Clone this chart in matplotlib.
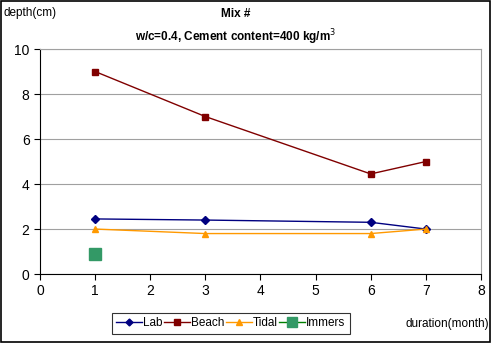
import matplotlib.pyplot as plt
from matplotlib.lines import Line2D

plt.rcParams['font.family'] = ['Liberation Sans', 'DejaVu Sans']

months = [1, 3, 6, 7]
lab = [2.45, 2.4, 2.3, 2.0]
beach = [9.0, 7.0, 4.45, 5.0]
tidal = [2.0, 1.8, 1.8, 2.0]
immers_x = [1]
immers = [0.9]

fig = plt.figure(figsize=(4.91, 3.43), dpi=100)
ax = fig.add_axes([0.0815, 0.201, 0.898, 0.656])

ax.plot(months, lab, '-D', color='#000080', lw=1, ms=4)
ax.plot(months, beach, '-s', color='#800000', lw=1, ms=5)
ax.plot(months, tidal, '-^', color='#FF9900', lw=1, ms=5)
ax.plot(immers_x, immers, 's', color='#339966', ms=8, lw=0)

ax.set_xlim(0, 8)
ax.set_ylim(0, 10)
ax.set_xticks(range(0, 9))
ax.set_yticks(range(0, 11, 2))
ax.tick_params(labelsize=10, length=4, direction='out')
ax.yaxis.grid(True, color='#a0a0a0', lw=0.8)
ax.set_axisbelow(True)
ax.spines['top'].set_color('#a0a0a0')
ax.spines['right'].set_color('#a0a0a0')

fig.text(0.008, 0.962, 'depth(cm)', fontsize=8.5, va='center')
fig.text(0.48, 0.958, 'Mix #', fontsize=8.5, weight='bold', ha='center', va='center')
fig.text(0.48, 0.893, 'w/c=0.4, Cement content=400 kg/m$^3$', fontsize=8.5,
         weight='bold', ha='center', va='center')
fig.text(0.825, 0.055, 'duration(month)', fontsize=8.5, ha='left', va='center')

handles = [
    Line2D([], [], color='#000080', marker='D', ms=3.5, lw=1),
    Line2D([], [], color='#800000', marker='s', ms=5, lw=1),
    Line2D([], [], color='#FF9900', marker='^', ms=5, lw=1),
    Line2D([], [], color='#008000', marker='s', ms=7, mfc='#339966', mec='#339966', lw=1),
]
leg = fig.legend(handles, ['Lab', 'Beach', 'Tidal', 'Immers'], loc='center',
                 bbox_to_anchor=(0.470, 0.057), ncol=4, fontsize=8.5,
                 frameon=True, fancybox=False, edgecolor='black',
                 handlelength=2.2, handletextpad=0.1, columnspacing=0.1,
                 borderpad=0.35)
leg.get_frame().set_linewidth(0.8)

fig.patches.append(plt.Rectangle((0.002, 0.002), 0.996, 0.994, transform=fig.transFigure,
                                 fill=False, edgecolor='black', lw=1.2))

fig.savefig('out.png', dpi=100)
